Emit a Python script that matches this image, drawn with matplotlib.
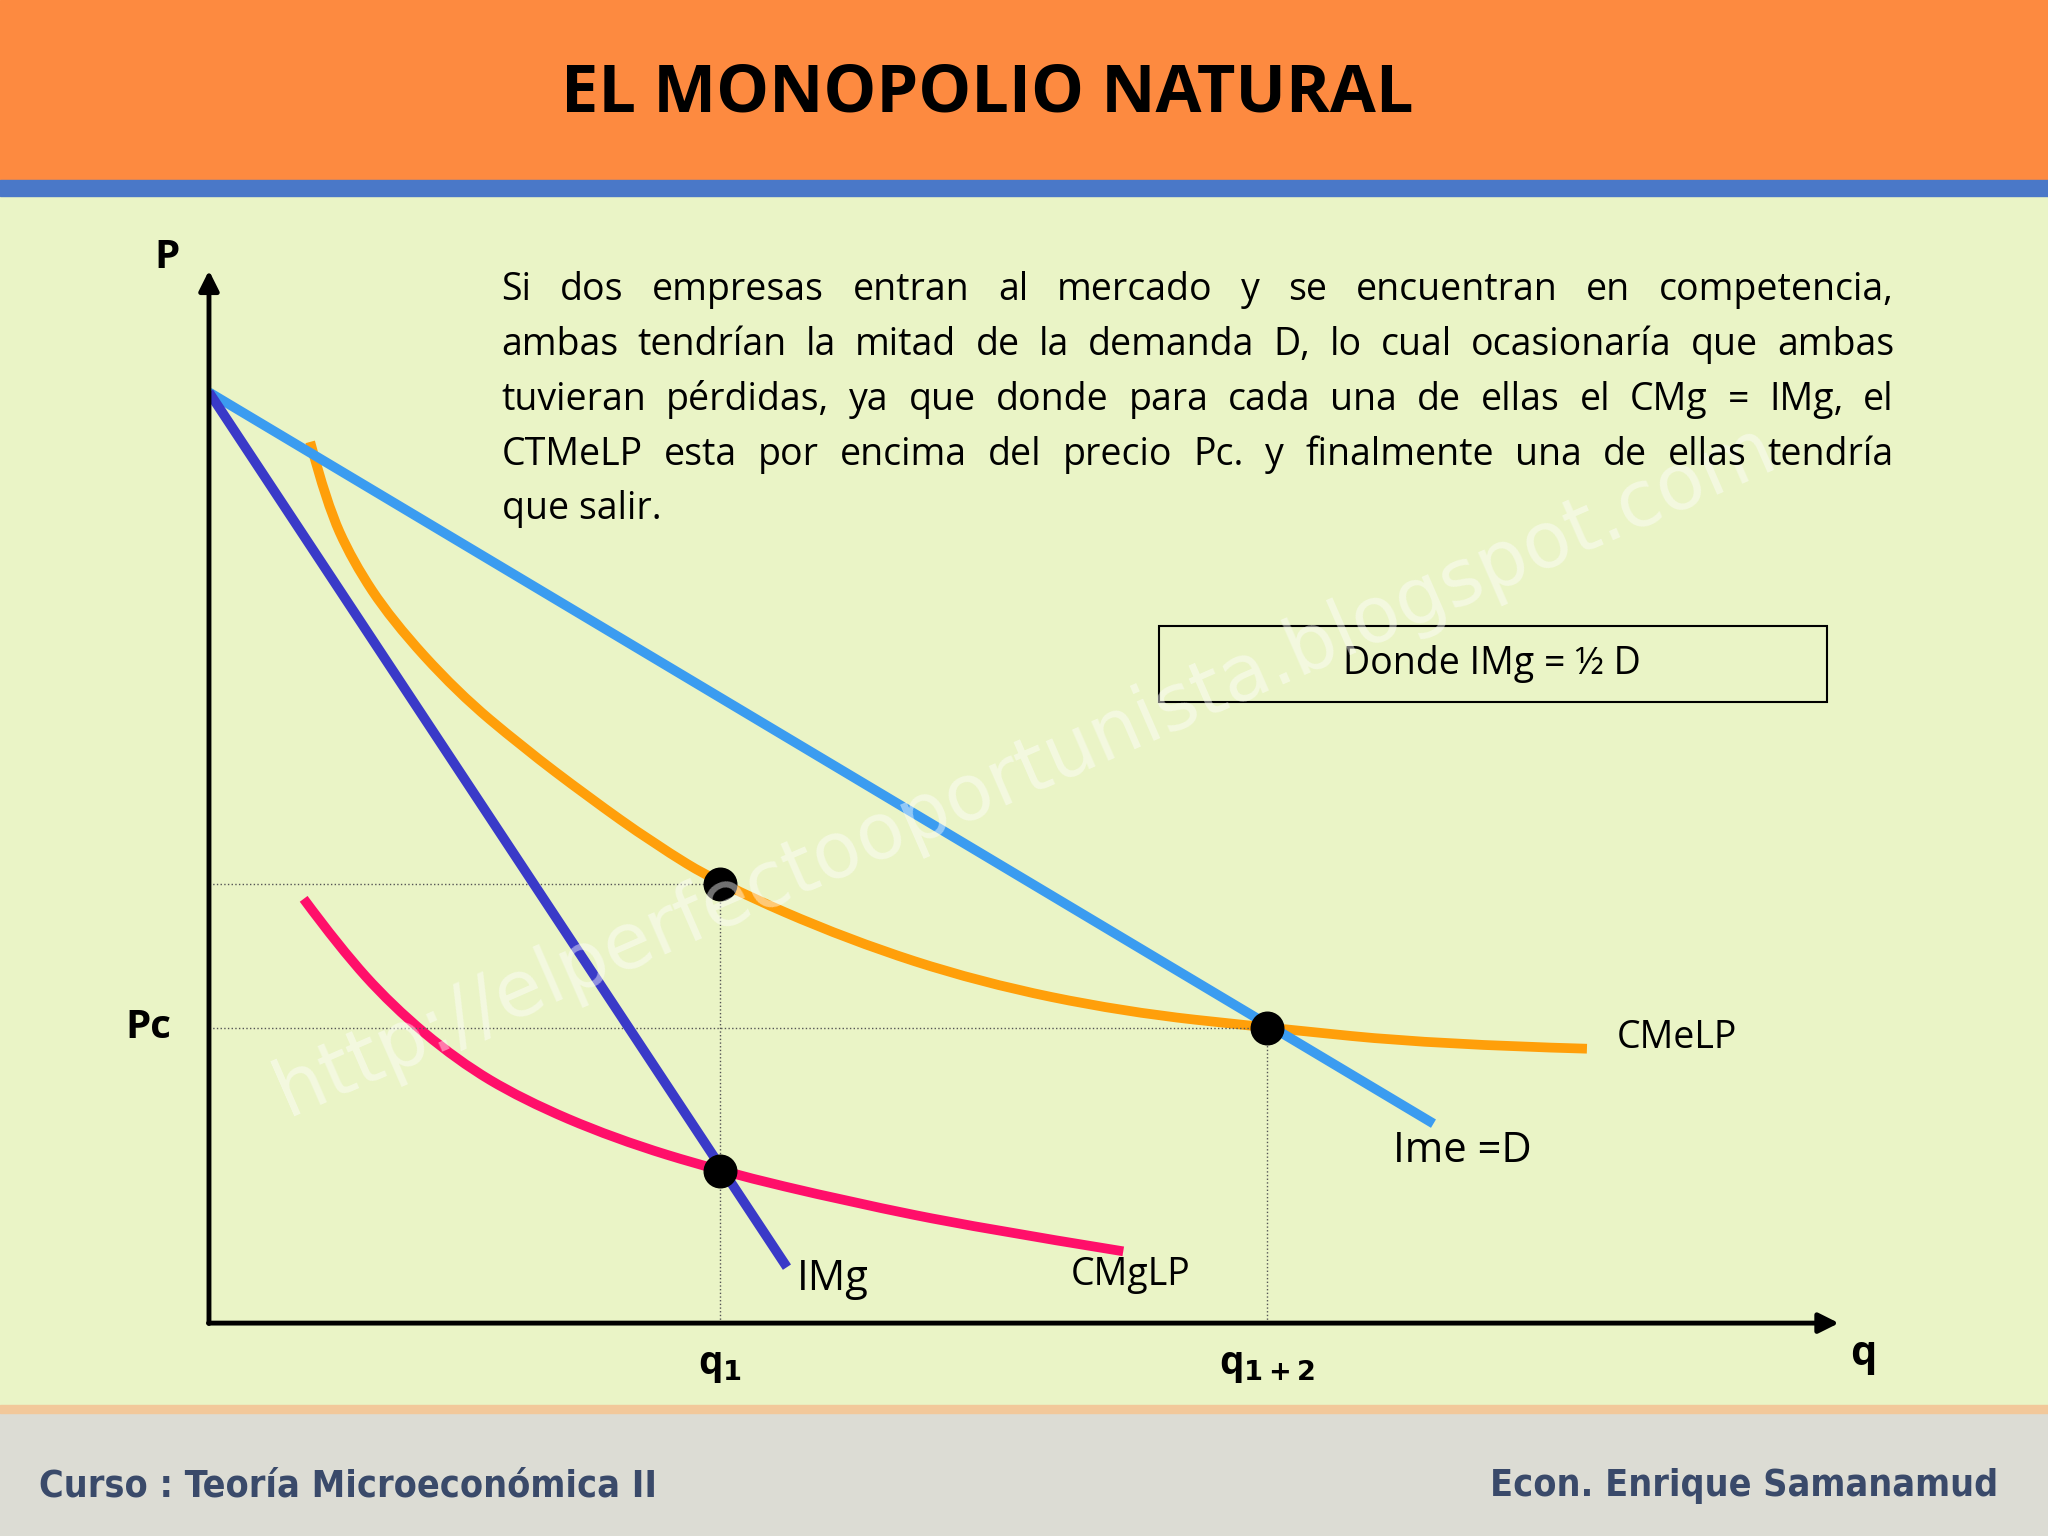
import matplotlib
matplotlib.use("Agg")
import matplotlib.pyplot as plt
from matplotlib.patches import Rectangle, PathPatch
from matplotlib.path import Path

# data units: axes 0..100 in both directions
dem_q = [0, 75]
dem_p = [88.2, 18.9]
img_q = [0, 35.4]
img_p = [88.2, 5.3]
cme_q = [6.2, 7.2, 8.8, 11.2, 15.2, 19.2, 23.2, 27.2, 31.3, 39.2, 47.2, 56.0, 64.8, 75.2, 84.4]
cme_p = [83.5, 77.7, 72.2, 66.6, 59.8, 54.6, 49.9, 45.5, 41.6, 36.3, 32.3, 29.5, 28.0, 26.4, 26.0]
cmg_q = [5.8, 8.0, 11.2, 15.2, 19.2, 24.8, 31.3, 39.2, 47.2, 56.0]
cmg_p = [40.2, 35.6, 30.1, 24.9, 21.2, 17.5, 14.4, 11.5, 9.0, 6.8]
pts_q = [31.3, 64.8, 31.3]
pts_p = [41.6, 28.0, 14.4]
q1, q12, pc, p1 = 31.3, 64.8, 28.0, 41.6

texto = ["Si dos empresas entran al mercado y se encuentran en competencia,",
         "ambas tendrían la mitad de la demanda D, lo cual ocasionaría que ambas",
         "tuvieran pérdidas, ya que donde para cada una de ellas el CMg = IMg, el",
         "CTMeLP esta por encima del precio Pc. y finalmente una de ellas tendría",
         "que salir."]

fig = plt.figure(figsize=(20.48, 15.36), dpi=100)
H = 1176.0
def fy(y): return 1 - y / H
def fx(x): return x / 1568.0

fig.patches.append(Rectangle((0, 0), 1, 1, transform=fig.transFigure, color="#eaf4c6", zorder=-10))
fig.patches.append(Rectangle((0, fy(138)), 1, 138 / H, transform=fig.transFigure, color="#fd8a40", zorder=-9))
fig.patches.append(Rectangle((0, fy(150)), 1, 12 / H, transform=fig.transFigure, color="#4a78c8", zorder=-9))
fig.patches.append(Rectangle((0, 0), 1, 95 / H, transform=fig.transFigure, color="#dcdcd4", zorder=-9))
fig.patches.append(Rectangle((0, fy(1082)), 1, 6 / H, transform=fig.transFigure, color="#f2c89a", zorder=-9))

fig.text(0.482, fy(72), "EL MONOPOLIO NATURAL", ha="center", va="center",
         fontsize=48, fontweight="bold", family="Open Sans")
fig.text(fx(30), fy(1138), "Curso : Teoría Microeconómica II", ha="left", va="center",
         fontsize=27, fontweight="bold", fontstretch="condensed", color="#3a4a6a", family="DejaVu Sans")
fig.text(fx(1530), fy(1138), "Econ. Enrique Samanamud", ha="right", va="center",
         fontsize=27, fontweight="bold", fontstretch="condensed", color="#3a4a6a", family="DejaVu Sans")
fig.text(fx(785), fy(590), "http://elperfectooportunista.blogspot.com", rotation=23.6,
         ha="center", va="center", fontsize=56, color="white", alpha=0.45, family="DejaVu Sans")

# justified paragraph
renderer = fig.canvas.get_renderer()
x0, x1 = fx(384), fx(1450)
figw = fig.bbox.width
for i, line in enumerate(texto):
    y = fy(222 + 42 * i)
    words = line.split()
    if i == len(texto) - 1:
        fig.text(x0, y, line, ha="left", va="center", fontsize=27, family="Open Sans")
        continue
    arts = [fig.text(0, y, w, ha="left", va="center", fontsize=27, family="Open Sans") for w in words]
    widths = [a.get_window_extent(renderer).width / figw for a in arts]
    gap = (x1 - x0 - sum(widths)) / (len(words) - 1)
    x = x0
    for a, w in zip(arts, widths):
        a.set_x(x)
        x += w + gap

ax = fig.add_axes([fx(160), fy(1013), fx(1410) - fx(160), fy(205) - fy(1013)])
ax.set_xlim(0, 100)
ax.set_ylim(0, 100)
ax.patch.set_alpha(0)
for s in ax.spines.values():
    s.set_visible(False)
ax.set_xticks([])
ax.set_yticks([])
ax.annotate("", xy=(100, 0), xytext=(-0.2, 0), arrowprops=dict(arrowstyle="-|>", lw=3.5, color="black", mutation_scale=30), clip_on=False)
ax.annotate("", xy=(0, 100), xytext=(0, -0.3), arrowprops=dict(arrowstyle="-|>", lw=3.5, color="black", mutation_scale=30), clip_on=False)

ax.plot([0, q1], [p1, p1], ls=":", color="#555", lw=1)
ax.plot([0, q12], [pc, pc], ls=":", color="#555", lw=1)
ax.plot([q1, q1], [0, p1], ls=":", color="#555", lw=1)
ax.plot([q12, q12], [0, pc], ls=":", color="#555", lw=1)

def smooth(qs, ps, color):
    pts = list(zip(qs, ps))
    verts = [pts[0]]
    codes = [Path.MOVETO]
    for k in range(1, len(pts) - 1):
        mid = ((pts[k][0] + pts[k + 1][0]) / 2, (pts[k][1] + pts[k + 1][1]) / 2)
        if k == len(pts) - 2:
            mid = pts[-1]
        verts += [pts[k], mid]
        codes += [Path.CURVE3, Path.CURVE3]
    ax.add_patch(PathPatch(Path(verts, codes), fc="none", ec=color, lw=7, capstyle="butt"))

smooth(cme_q, cme_p, "#ff9f0a")
ax.plot(dem_q, dem_p, color="#3b9cf0", lw=7, solid_capstyle="butt")
ax.plot(img_q, img_p, color="#3a3ac8", lw=7, solid_capstyle="butt")
smooth(cmg_q, cmg_p, "#ff0f6a")
ax.scatter(pts_q, pts_p, s=550, color="black", zorder=5)

lab = dict(family="Open Sans", clip_on=False)
ax.text(86.2, 27, "CMeLP", va="center", fontsize=27, **lab)
ax.text(72.5, 16.3, "Ime =D", va="center", fontsize=30, **lab)
ax.text(36, 4.2, "IMg", va="center", fontsize=30, **lab)
ax.text(52.8, 4.6, "CMgLP", va="center", fontsize=27, **lab)
ax.text(-2.3, pc, "Pc", ha="right", va="center", fontsize=29, fontweight="bold", **lab)
ax.text(-1.8, 101, "P", ha="right", va="center", fontsize=29, fontweight="bold", **lab)
ax.text(100.5, -3, "q", ha="left", va="center", fontsize=30, fontweight="bold", **lab)
ax.text(q1, -4, r"q$_\mathbf{1}$", ha="center", va="center", fontsize=28, fontweight="bold", **lab)
ax.text(q12, -4, r"q$_\mathbf{1+2}$", ha="center", va="center", fontsize=28, fontweight="bold", **lab)
ax.add_patch(Rectangle((58.2, 58.9), 40.9, 7.2, fc="none", ec="black", lw=1.5, clip_on=False))
ax.text(78.6, 62.5, "Donde IMg = ½ D", ha="center", va="center", fontsize=27, **lab)

fig.savefig("out.png", dpi=100)
